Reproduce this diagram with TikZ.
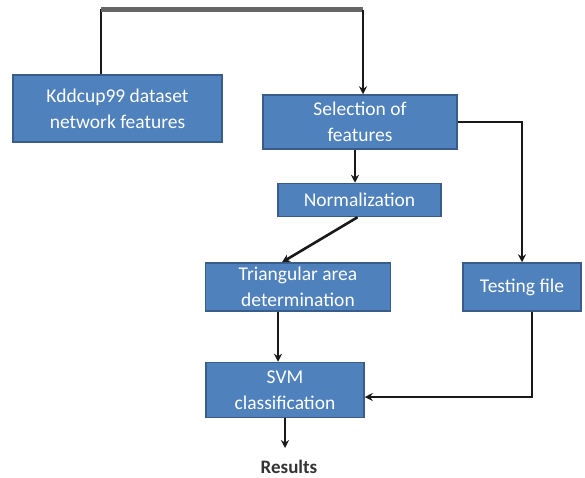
\documentclass[tikz,border=0pt]{standalone}
\usepackage{fontspec}
\setmainfont{Carlito}
\usetikzlibrary{arrows.meta}
\definecolor{boxfill}{HTML}{4F81BD}
\definecolor{boxline}{HTML}{385D8A}
\tikzset{
  box/.style={draw=boxline, line width=1.5pt, fill=boxfill, text=white, align=center,
    inner sep=0pt, font=\fontsize{19.5}{26}\selectfont},
  conn/.style={draw=black!90, line width=2.6pt},
  arr/.style={conn, -{Stealth[length=8pt,width=8pt]}},
  topline/.style={draw=black!60, line width=5pt}
}
\begin{document}
\begin{tikzpicture}[x=1pt,y=-1pt]
\useasboundingbox (0,0) rectangle (585,477);
\node[box, minimum width=209pt, minimum height=67pt] (kdd) at (117.5,108.5) {Kddcup99 dataset\\network features};
\node[box, minimum width=194pt, minimum height=54pt] (sel) at (360,122) {Selection of\\features};
\node[box, minimum width=163pt, minimum height=33pt] (norm) at (359.5,200) {Normalization};
\node[box, minimum width=185pt, minimum height=48pt] (tri) at (298,287) {Triangular area\\determination};
\node[box, minimum width=118pt, minimum height=48pt] (test) at (522,287) {Testing file};
\node[box, minimum width=158pt, minimum height=55pt] (svm) at (285,390) {SVM\\classification};
\node[font=\bfseries\fontsize{19}{22}\selectfont, text=black!80, inner sep=0pt] (res) at (289,467) {Results};
\coordinate (t1) at (101,9);
\coordinate (t2) at (363,9);
\coordinate (nx) at (355,0);
\coordinate (tx) at (278,0);
\coordinate (sx) at (532,397);
\coordinate (ry) at (0,448);
\draw[conn] (kdd.north -| t1) -- (t1);
\draw[topline] (t1) -- (t2);
\draw[arr] ([yshift=-1.2pt]t2) -- (sel.north -| t2);
\draw[arr] (sel.south -| nx) -- (norm.north -| nx);
\draw[arr] (sel.east) -| (test.north);
\draw[arr] ([xshift=-2pt]norm.south) -- ([xshift=-16pt]tri.north);
\draw[arr] (tri.south -| tx) -- (svm.north -| tx);
\draw[arr] (test.south -| sx) -- (sx) -- (svm.east |- sx);
\draw[arr] (svm.south) -- (svm.south |- ry);
\end{tikzpicture}
\end{document}
